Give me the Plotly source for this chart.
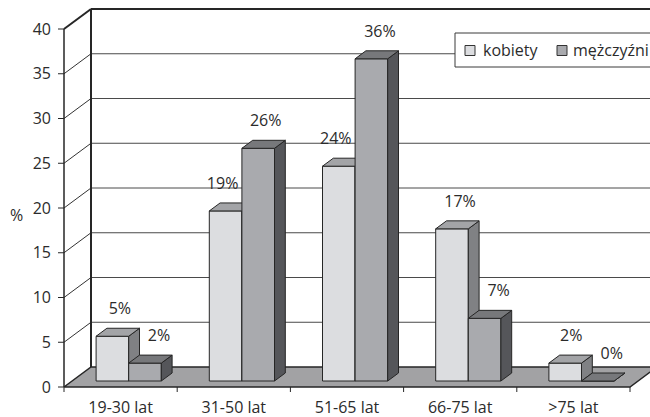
import plotly.graph_objects as go

# ---------------- data ----------------
categories = ["19-30 lat", "31-50 lat", "51-65 lat", "66-75 lat", ">75 lat"]
series_names = ["kobiety", "mężczyźni"]
kobiety = [5, 19, 24, 17, 2]
mezczyzni = [2, 26, 36, 7, 0]
y_ticks = [0, 5, 10, 15, 20, 25, 30, 35, 40]
y_title = "%"

# ---------------- style / geometry ----------------
W, H = 650, 417
PX_X = 113.2          # px per category
PX_Y = 8.95           # px per value unit
X0_PX, Y0_PX = 64, 387
ML, MB = 52, 21
DX = 27 / PX_X        # depth offset (category units)
DY = 20 / PX_Y        # depth offset (value units)
BAR_W = 0.288
D_FRONT, D_BACK = 0.3, 0.7
FONT = "Open Sans"
FS = 16
TXT = "#2b2b2b"
EDGE = "#262626"
FACE = {
    0: dict(front="#dcdde0", top="#a3a4a7", side="#808184"),
    1: dict(front="#a9aaae", top="#77787b", side="#55565a"),
}
FLOOR = "#a2a2a4"
label_shift_px = {0: [7.5, -3, -3, 8, 6], 1: [14, 7.5, 8.5, 14, 14]}
LABEL_UP_PX = 26

xr = [(ML - X0_PX) / PX_X, (W - X0_PX) / PX_X]
yr = [-(H - MB - Y0_PX) / PX_Y, Y0_PX / PX_Y]
ymax = max(y_ticks)
ncat = len(categories)

fig = go.Figure()


def poly(xs, ys, fill, lw=1, color=EDGE):
    fig.add_trace(go.Scatter(
        x=list(xs) + [xs[0]], y=list(ys) + [ys[0]], mode="lines",
        fill="toself", fillcolor=fill, line=dict(color=color, width=lw),
        hoverinfo="skip", showlegend=False))


def line(xs, ys, color=EDGE, lw=1):
    fig.add_trace(go.Scatter(
        x=xs, y=ys, mode="lines", line=dict(color=color, width=lw),
        hoverinfo="skip", showlegend=False))


# back wall gridlines
xend = ncat + DX + 0.5
for v in y_ticks[1:-1]:
    line([DX, xend], [v + DY, v + DY], color="#4a4a4a", lw=1)
    line([0, DX], [v, v + DY], color="#333333", lw=1)
# back wall top & left edge, left wall top
line([DX, xend], [ymax + DY, ymax + DY], lw=2)
line([DX, DX], [DY, ymax + DY], lw=2)
line([0, DX], [ymax, ymax + DY], lw=2)

# floor
poly([0, ncat, ncat + DX, DX], [0, 0, DY, DY], FLOOR, lw=1.5)

# front y axis line
line([0, 0], [0, ymax], lw=1.5)
# y ticks
for v in y_ticks:
    line([0, -6 / PX_X], [v, v], lw=1)
# x ticks
for k in range(ncat + 1):
    line([k, k], [0, -5 / PX_Y], lw=1)

# bars
fx, fy = D_FRONT * DX, D_FRONT * DY
bx, by = D_BACK * DX, D_BACK * DY
series = [kobiety, mezczyzni]
for i in range(ncat):
    for s, vals in enumerate(series):
        v = vals[i]
        left = i + 0.5 - BAR_W + s * BAR_W
        r = left + BAR_W
        c = FACE[s]
        poly([left + fx, r + fx, r + fx, left + fx], [fy, fy, v + fy, v + fy], c["front"])
        poly([r + fx, r + bx, r + bx, r + fx], [fy, by, v + by, v + fy], c["side"])
        poly([left + fx, r + fx, r + bx, left + bx], [v + fy, v + fy, v + by, v + by], c["top"])

# value labels
for s, vals in enumerate(series):
    xs, ys, ts = [], [], []
    for i, v in enumerate(vals):
        left = i + 0.5 - BAR_W + s * BAR_W
        xs.append(left + BAR_W / 2 + fx + label_shift_px[s][i] / PX_X)
        ys.append(v + fy + LABEL_UP_PX / PX_Y)
        ts.append(f"{v}%")
    fig.add_trace(go.Scatter(x=xs, y=ys, text=ts, mode="text",
                             textfont=dict(family=FONT, size=FS, color=TXT),
                             hoverinfo="skip", showlegend=False, cliponaxis=False))

# axis title "%"
pw, ph = W - ML, H - MB
fig.add_annotation(x=(8 - ML) / pw, y=(ph - 215) / ph, xref="paper", yref="paper",
                   text=y_title, showarrow=False, font=dict(family=FONT, size=FS, color=TXT))

# custom legend
fig.add_shape(type="rect", xref="paper", yref="paper",
              x0=(455 - ML) / pw, x1=(665 - ML) / pw, y0=(ph - 67) / ph, y1=(ph - 33) / ph,
              fillcolor="white", line=dict(color="#3a3a3a", width=1), layer="above")
leg_sq_x = [465, 557]
leg_tx_x = [481, 571]
for s, name in enumerate(series_names):
    fig.add_shape(type="rect", xref="paper", yref="paper",
                  x0=(leg_sq_x[s] - ML) / pw, x1=(leg_sq_x[s] + 10 - ML) / pw,
                  y0=(ph - 55.5) / ph, y1=(ph - 45.5) / ph,
                  fillcolor=FACE[s]["front"], line=dict(color="#333333", width=1), layer="above")
    fig.add_annotation(x=(leg_tx_x[s] - ML) / pw, y=(ph - 50) / ph, xref="paper", yref="paper",
                       text=name, showarrow=False, xanchor="left", yanchor="middle",
                       font=dict(family=FONT, size=FS, color=TXT))

fig.update_layout(
    width=W, height=H, margin=dict(l=ML, r=0, t=0, b=MB, autoexpand=False),
    paper_bgcolor="white", plot_bgcolor="white", showlegend=False,
    xaxis=dict(range=xr, tickvals=[i + 0.5 for i in range(ncat)], ticktext=categories,
               showgrid=False, zeroline=False, showline=False, ticks="",
               automargin=False,
               tickfont=dict(family=FONT, size=FS, color=TXT), fixedrange=True),
    yaxis=dict(range=yr, tickvals=y_ticks, showgrid=False, zeroline=False, showline=False,
               ticks="", automargin=False,
               tickfont=dict(family=FONT, size=FS, color=TXT), fixedrange=True),
)

fig.write_html("out.html")
